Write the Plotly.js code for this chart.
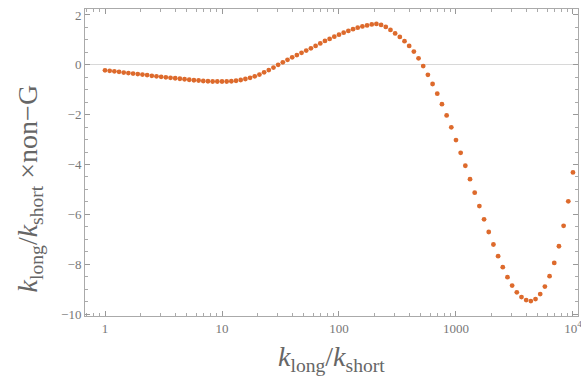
<!DOCTYPE html>
<html>
<head>
<meta charset="utf-8">
<script src="https://cdn.plot.ly/plotly-3.0.1.min.js"></script>
<style>html,body{margin:0;padding:0;background:#fff;}#chart{width:581px;height:385px;}</style>
</head>
<body>
<div id="chart"></div>
<script>
// k_long / k_short sample points (log-spaced, 25 per decade)
const ratio = [
  1, 1.0965, 1.2023, 1.3183, 1.4454, 1.5849, 1.7378, 1.9055, 2.0893, 2.2909,
  2.5119, 2.7542, 3.0200, 3.3113, 3.6308, 3.9811, 4.3652, 4.7863, 5.2481, 5.7544,
  6.3096, 6.9183, 7.5858, 8.3176, 9.1201,
  10, 10.965, 12.023, 13.183, 14.454, 15.849, 17.378, 19.055, 20.893, 22.909,
  25.119, 27.542, 30.200, 33.113, 36.308, 39.811, 43.652, 47.863, 52.481, 57.544,
  63.096, 69.183, 75.858, 83.176, 91.201,
  100, 109.65, 120.23, 131.83, 144.54, 158.49, 173.78, 190.55, 208.93, 229.09,
  251.19, 275.42, 302.00, 331.13, 363.08, 398.11, 436.52, 478.63, 524.81, 575.44,
  630.96, 691.83, 758.58, 831.76, 912.01,
  1000, 1096.5, 1202.3, 1318.3, 1445.4, 1584.9, 1737.8, 1905.5, 2089.3, 2290.9,
  2511.9, 2754.2, 3020.0, 3311.3, 3630.8, 3981.1, 4365.2, 4786.3, 5248.1, 5754.4,
  6309.6, 6918.3, 7585.8, 8317.6, 9120.1,
  10000
];
// k_long/k_short x non-G values
const nonG = [
  -0.22, -0.24, -0.26, -0.28, -0.31, -0.33, -0.35, -0.37, -0.39, -0.41,
  -0.44, -0.46, -0.48, -0.50, -0.52, -0.54, -0.56, -0.58, -0.60, -0.62,
  -0.63, -0.65, -0.66, -0.67, -0.67,
  -0.67, -0.67, -0.66, -0.64, -0.61, -0.57, -0.52, -0.46, -0.39, -0.30,
  -0.21, -0.11, 0.00, 0.10, 0.20, 0.30, 0.39, 0.48, 0.57, 0.66,
  0.76, 0.86, 0.96, 1.04, 1.13,
  1.21, 1.29, 1.36, 1.43, 1.49, 1.54, 1.58, 1.62, 1.64, 1.60,
  1.52, 1.40, 1.26, 1.12, 0.95, 0.76, 0.53, 0.26, -0.05, -0.40,
  -0.77, -1.16, -1.58, -2.03, -2.51,
  -3.02, -3.53, -4.05, -4.59, -5.13, -5.67, -6.20, -6.71, -7.21, -7.68,
  -8.12, -8.52, -8.86, -9.13, -9.32, -9.44, -9.48, -9.40, -9.20, -8.90,
  -8.48, -7.95, -7.28, -6.46, -5.48,
  -4.32
];
const xTickVals = [1, 10, 100, 1000, 10000];
const xTickText = ['1', '10', '100', '1000', '10<sup>4</sup>'];
const yTickVals = [-10, -8, -6, -4, -2, 0, 2];
const yTickText = ['\u221210', '\u22128', '\u22126', '\u22124', '\u22122', '0', '2'];

const serif = '"Liberation Serif", "DejaVu Serif", serif';
const trace = {
  x: ratio, y: nonG, type: 'scatter', mode: 'markers',
  marker: {color: '#dd6a2c', size: 4.8, line: {width: 0}},
  hoverinfo: 'skip'
};
const layout = {
  width: 581, height: 385,
  margin: {l: 85, r: 3, t: 9, b: 69},
  paper_bgcolor: '#fff', plot_bgcolor: '#fff',
  showlegend: false,
  xaxis: {
    type: 'log', range: [-0.171, 4.043],
    tickvals: xTickVals, ticktext: xTickText,
    ticks: 'inside', ticklen: 5, tickcolor: '#999', tickwidth: 1,
    minor: {ticks: 'inside', ticklen: 3, tickcolor: '#aaa', dtick: 'D1', showgrid: false},
    showline: true, linecolor: '#aaa', linewidth: 1, mirror: 'allticks',
    showgrid: false, zeroline: false, ticklabeloverflow: 'allow',
    tickfont: {family: serif, size: 13, color: '#777'}
  },
  yaxis: {
    range: [-10.08, 2.24],
    tickvals: yTickVals, ticktext: yTickText,
    ticks: 'inside', ticklen: 5, tickcolor: '#999', tickwidth: 1,
    minor: {ticks: 'inside', ticklen: 3, tickcolor: '#aaa', dtick: 0.5, showgrid: false},
    showline: true, linecolor: '#aaa', linewidth: 1, mirror: 'allticks',
    showgrid: false, zeroline: true, zerolinecolor: '#d8d8d8', zerolinewidth: 1,
    tickfont: {family: serif, size: 13, color: '#777'}
  },
  annotations: [{
    text: '<i>k</i><sub>long</sub>/<i>k</i><sub>short</sub> \u00d7non\u2212G',
    xref: 'paper', yref: 'paper', x: -0.112, y: 0.415, textangle: -90,
    showarrow: false, xanchor: 'center', yanchor: 'middle',
    font: {family: serif, size: 28, color: '#666'}
  }, {
    text: '<i>k</i><sub>long</sub>/<i>k</i><sub>short</sub>',
    xref: 'paper', yref: 'paper', x: 0.5, y: -0.137,
    showarrow: false, xanchor: 'center', yanchor: 'middle',
    font: {family: serif, size: 28, color: '#666'}
  }]
};
Plotly.newPlot('chart', [trace], layout, {staticPlot: true, displayModeBar: false});
</script>
</body>
</html>
